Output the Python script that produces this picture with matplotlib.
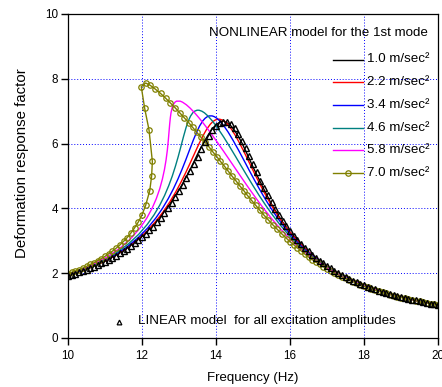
import matplotlib
matplotlib.use("Agg")
import matplotlib.pyplot as plt

plt.rcParams['font.family'] = ['Liberation Sans', 'DejaVu Sans']

# linear model, read every 0.1 Hz
freq_lin = [10.0, 10.1, 10.2, 10.3, 10.4, 10.5, 10.6, 10.7, 10.8, 10.9,
            11.0, 11.1, 11.2, 11.3, 11.4, 11.5, 11.6, 11.7, 11.8, 11.9,
            12.0, 12.1, 12.2, 12.3, 12.4, 12.5, 12.6, 12.7, 12.8, 12.9,
            13.0, 13.1, 13.2, 13.3, 13.4, 13.5, 13.6, 13.7, 13.8, 13.9,
            14.0, 14.1, 14.2, 14.3, 14.4, 14.5, 14.6, 14.7, 14.8, 14.9,
            15.0, 15.1, 15.2, 15.3, 15.4, 15.5, 15.6, 15.7, 15.8, 15.9,
            16.0, 16.1, 16.2, 16.3, 16.4, 16.5, 16.6, 16.7, 16.8, 16.9,
            17.0, 17.1, 17.2, 17.3, 17.4, 17.5, 17.6, 17.7, 17.8, 17.9,
            18.0, 18.1, 18.2, 18.3, 18.4, 18.5, 18.6, 18.7, 18.8, 18.9,
            19.0, 19.1, 19.2, 19.3, 19.4, 19.5, 19.6, 19.7, 19.8, 19.9,
            20.0]
rd_lin = [1.92, 1.95, 1.99, 2.03, 2.07, 2.11, 2.16, 2.20, 2.25, 2.30,
          2.36, 2.41, 2.48, 2.54, 2.61, 2.68, 2.76, 2.84, 2.92, 3.01,
          3.11, 3.22, 3.33, 3.44, 3.57, 3.71, 3.85, 4.00, 4.17, 4.34,
          4.53, 4.73, 4.94, 5.15, 5.37, 5.60, 5.83, 6.04, 6.24, 6.41,
          6.55, 6.65, 6.68, 6.67, 6.59, 6.47, 6.29, 6.09, 5.86, 5.61,
          5.36, 5.11, 4.86, 4.63, 4.40, 4.19, 3.99, 3.80, 3.62, 3.46,
          3.30, 3.16, 3.03, 2.90, 2.78, 2.68, 2.57, 2.48, 2.39, 2.30,
          2.22, 2.15, 2.08, 2.01, 1.95, 1.89, 1.83, 1.77, 1.72, 1.67,
          1.63, 1.58, 1.54, 1.50, 1.46, 1.43, 1.39, 1.36, 1.33, 1.29,
          1.26, 1.24, 1.21, 1.18, 1.16, 1.13, 1.11, 1.09, 1.06, 1.04,
          1.02]

# nonlinear model, 1.0 m/sec2
freq_10 = [10.0, 10.5, 11.0, 11.5, 12.0, 12.25, 12.5, 12.75, 13.0, 13.1, 13.2, 13.3,
           13.4, 13.5, 13.6, 13.7, 13.8, 13.9, 14.0, 14.1, 14.2, 14.3, 14.4, 14.5,
           14.6, 14.7, 14.8, 14.9, 15.0, 15.25, 15.5, 15.75, 16.0, 16.5, 17.0, 17.5,
           18.0, 18.5, 19.0, 19.5, 20.0]
rd_10 = [1.93, 2.12, 2.37, 2.69, 3.13, 3.42, 3.75, 4.13, 4.57, 4.77, 4.98, 5.20,
         5.43, 5.67, 5.89, 6.10, 6.29, 6.46, 6.58, 6.66, 6.70, 6.64, 6.55, 6.41,
         6.23, 6.02, 5.78, 5.53, 5.28, 4.69, 4.13, 3.66, 3.27, 2.66, 2.21, 1.88,
         1.62, 1.42, 1.26, 1.13, 1.02]

# 2.2 m/sec2
freq_22 = [9.78, 10.456, 11.051, 11.499, 11.85, 12.135, 12.373, 12.576, 12.752, 12.908,
           13.049, 13.18, 13.302, 13.422, 13.543, 13.652, 13.752, 13.847, 13.916, 13.983,
           14.045, 14.101, 14.166, 14.236, 14.31, 14.414, 14.524, 14.644, 14.777, 14.905,
           15.032, 15.163, 15.3, 15.446, 15.604, 15.778, 15.973, 16.197, 16.457, 16.769,
           17.154, 17.553, 18.057, 18.719, 19.423, 20.107]
rd_22 = [1.85, 2.1, 2.4, 2.7, 3.0, 3.3, 3.6, 3.9, 4.2, 4.5,
         4.8, 5.1, 5.4, 5.7, 6.0, 6.25, 6.45, 6.6, 6.68, 6.73,
         6.752, 6.752, 6.73, 6.68, 6.6, 6.45, 6.25, 6.0, 5.7, 5.4,
         5.1, 4.8, 4.5, 4.2, 3.9, 3.6, 3.3, 3.0, 2.7, 2.4,
         2.1, 1.85, 1.6, 1.35, 1.15, 1.0]

# 3.4 m/sec2
freq_34 = [9.91, 10.646, 11.178, 11.581, 11.899, 12.157, 12.371, 12.553, 12.709, 12.847,
           12.969, 13.08, 13.184, 13.283, 13.384, 13.475, 13.56, 13.642, 13.704, 13.763,
           13.82, 13.895, 13.957, 14.025, 14.101, 14.211, 14.331, 14.462, 14.608, 14.748,
           14.886, 15.027, 15.172, 15.325, 15.488, 15.666, 15.862, 16.082, 16.336, 16.636,
           16.998, 17.453, 18.048, 18.713, 19.418, 20.104]
rd_34 = [1.9, 2.2, 2.5, 2.8, 3.1, 3.4, 3.7, 4.0, 4.3, 4.6,
         4.9, 5.2, 5.5, 5.8, 6.1, 6.35, 6.55, 6.7, 6.78, 6.83,
         6.855, 6.855, 6.83, 6.78, 6.7, 6.55, 6.35, 6.1, 5.8, 5.5,
         5.2, 4.9, 4.6, 4.3, 4.0, 3.7, 3.4, 3.1, 2.8, 2.5,
         2.2, 1.9, 1.6, 1.35, 1.15, 1.0]

# 4.6 m/sec2
freq_46 = [9.564, 10.149, 10.796, 11.269, 11.628, 11.911, 12.138, 12.325, 12.48, 12.611,
           12.722, 12.819, 12.903, 12.979, 13.049, 13.118, 13.192, 13.252, 13.312, 13.372,
           13.422, 13.487, 13.541, 13.618, 13.687, 13.785, 13.901, 14.033, 14.209, 14.372,
           14.53, 14.685, 14.842, 15.001, 15.166, 15.34, 15.526, 15.727, 15.95, 16.202,
           16.494, 16.842, 17.269, 17.617, 18.036, 18.704, 19.412, 20.099]
rd_46 = [1.8, 2.0, 2.3, 2.6, 2.9, 3.2, 3.5, 3.8, 4.1, 4.4,
         4.7, 5.0, 5.3, 5.6, 5.9, 6.2, 6.5, 6.7, 6.85, 6.95,
         7.0, 7.03, 7.03, 7.0, 6.95, 6.85, 6.7, 6.5, 6.2, 5.9,
         5.6, 5.3, 5.0, 4.7, 4.4, 4.1, 3.8, 3.5, 3.2, 2.9,
         2.6, 2.3, 2.0, 1.8, 1.6, 1.35, 1.15, 1.0]

# 5.8 m/sec2
freq_58 = [9.833, 10.55, 11.058, 11.436, 11.724, 11.95, 12.129, 12.272, 12.386, 12.478,
           12.55, 12.607, 12.651, 12.685, 12.711, 12.733, 12.748, 12.766, 12.784, 12.813,
           12.845, 12.893, 12.934, 13.032, 13.094, 13.197, 13.296, 13.423, 13.536, 13.677,
           13.81, 13.999, 14.183, 14.362, 14.541, 14.72, 14.902, 15.09, 15.285, 15.493,
           15.717, 15.963, 16.24, 16.56, 16.941, 17.411, 18.02, 18.693, 19.405, 20.094]
rd_58 = [1.9, 2.2, 2.5, 2.8, 3.1, 3.4, 3.7, 4.0, 4.3, 4.6,
         4.9, 5.2, 5.5, 5.8, 6.1, 6.4, 6.6, 6.8, 6.95, 7.1,
         7.2, 7.28, 7.31, 7.31, 7.28, 7.2, 7.1, 6.95, 6.8, 6.6,
         6.4, 6.1, 5.8, 5.5, 5.2, 4.9, 4.6, 4.3, 4.0, 3.7,
         3.4, 3.1, 2.8, 2.5, 2.2, 1.9, 1.6, 1.35, 1.15, 1.0]

# 7.0 m/sec2 (lower branch, jump region, upper branch)
freq_70 = [10.0, 10.1, 10.2, 10.3, 10.4, 10.5, 10.6, 10.7, 10.8, 10.9,
           11.0, 11.1, 11.2, 11.3, 11.4, 11.5, 11.6, 11.7, 11.8, 11.9,
           12.0, 12.1, 12.21, 12.26, 12.28, 12.19, 12.07, 11.98, 12.1,
           12.22, 12.34, 12.5, 12.64, 12.77, 12.9, 13.02, 13.14, 13.26, 13.37,
           13.48, 13.59, 13.7, 13.81, 13.91, 14.02, 14.12, 14.23, 14.33, 14.43,
           14.54, 14.64, 14.75, 14.85, 14.96, 15.07, 15.18, 15.29, 15.41, 15.53,
           15.66, 15.79, 15.93,
           16.0, 16.1, 16.2, 16.3, 16.4, 16.5, 16.6, 16.7, 16.8, 16.9,
           17.0, 17.1, 17.2, 17.3, 17.4, 17.5, 17.6, 17.7, 17.8, 17.9,
           18.0, 18.1, 18.2, 18.3, 18.4, 18.5, 18.6, 18.7, 18.8, 18.9,
           19.0, 19.1, 19.2, 19.3, 19.4, 19.5, 19.6, 19.7, 19.8, 19.9,
           20.0]
rd_70 = [1.98, 2.03, 2.07, 2.11, 2.16, 2.21, 2.27, 2.32, 2.39, 2.45,
         2.52, 2.60, 2.68, 2.77, 2.87, 2.98, 3.10, 3.24, 3.40, 3.58,
         3.80, 4.10, 4.55, 5.00, 5.45, 6.42, 7.10, 7.76, 7.87,
         7.80, 7.70, 7.55, 7.40, 7.25, 7.10, 6.95, 6.80, 6.65, 6.50,
         6.35, 6.20, 6.05, 5.90, 5.75, 5.60, 5.45, 5.30, 5.15, 5.00,
         4.85, 4.70, 4.55, 4.40, 4.25, 4.10, 3.95, 3.80, 3.65, 3.50,
         3.35, 3.20, 3.05,
         2.97, 2.88, 2.78, 2.69, 2.59, 2.50, 2.42, 2.34, 2.27, 2.20,
         2.13, 2.07, 2.01, 1.95, 1.89, 1.84, 1.79, 1.74, 1.69, 1.64,
         1.60, 1.56, 1.52, 1.48, 1.44, 1.41, 1.38, 1.34, 1.31, 1.28,
         1.25, 1.23, 1.20, 1.18, 1.15, 1.13, 1.10, 1.08, 1.06, 1.04,
         1.02]

labels = ['1.0 m/sec\u00b2', '2.2 m/sec\u00b2', '3.4 m/sec\u00b2',
          '4.6 m/sec\u00b2', '5.8 m/sec\u00b2', '7.0 m/sec\u00b2']
colors = ['black', '#ff0000', '#0000ff', '#008080', '#ff00ff', '#808000']
series = [(freq_10, rd_10), (freq_22, rd_22), (freq_34, rd_34),
          (freq_46, rd_46), (freq_58, rd_58), (freq_70, rd_70)]

fig = plt.figure(figsize=(4.42, 3.87), dpi=100)
ax = fig.add_axes([68/442, 49/387, 370/442, 324/387])

for i, (fx, fy) in enumerate(series):
    if i == 5:
        ax.plot(fx, fy, color=colors[i], lw=1.0, marker='o', ms=3.9,
                mfc='none', mec=colors[i], mew=0.9)
    else:
        ax.plot(fx, fy, color=colors[i], lw=1.0)

ax.plot(freq_lin, rd_lin, ls='none', marker='^', ms=3.9, mfc='none',
        mec='black', mew=1.0)

ax.set_xlim(10, 20)
ax.set_ylim(0, 10)
ax.set_xticks([10, 12, 14, 16, 18, 20])
ax.set_yticks([0, 2, 4, 6, 8, 10])
ax.grid(True, color='#0000ff', ls=(0, (1, 2)), lw=0.7)
ax.set_axisbelow(True)
ax.tick_params(axis='both', direction='out', length=5, width=1,
               labelsize=8.4, top=False, right=False)
ax.tick_params(axis='x', pad=3.5)
ax.tick_params(axis='y', pad=2)
for s in ax.spines.values():
    s.set_linewidth(0.9)

ax.set_xlabel('Frequency (Hz)', fontsize=9.5)
ax.set_ylabel('Deformation response factor', fontsize=10.8)
ax.xaxis.set_label_coords(0.5, -0.105)
ax.yaxis.set_label_coords(-0.105, 0.539)

# legend for the nonlinear curves
ax.text(0.973, 0.940, 'NONLINEAR model for the 1st mode', transform=ax.transAxes,
        ha='right', va='center', fontsize=9.6)
for i in range(6):
    yy = (338 - (59.5 + 22.7 * i)) / 324
    ax.plot([0.716, 0.797], [yy, yy], transform=ax.transAxes, color=colors[i],
            lw=1.0, clip_on=False)
    if i == 5:
        ax.plot([0.7565], [yy], transform=ax.transAxes, marker='o', ms=3.9,
                mfc='none', mec=colors[i], mew=0.9)
    ax.text(0.808, yy, labels[i], transform=ax.transAxes, ha='left',
            va='center', fontsize=9.6)

# legend for the linear model
ax.plot([0.138], [0.049], transform=ax.transAxes, marker='^', ms=3.4,
        mfc='none', mec='black', mew=0.9)
ax.text(0.189, 0.052, 'LINEAR model  for all excitation amplitudes',
        transform=ax.transAxes, ha='left', va='center', fontsize=9.6)

fig.savefig('out.png', dpi=100)
